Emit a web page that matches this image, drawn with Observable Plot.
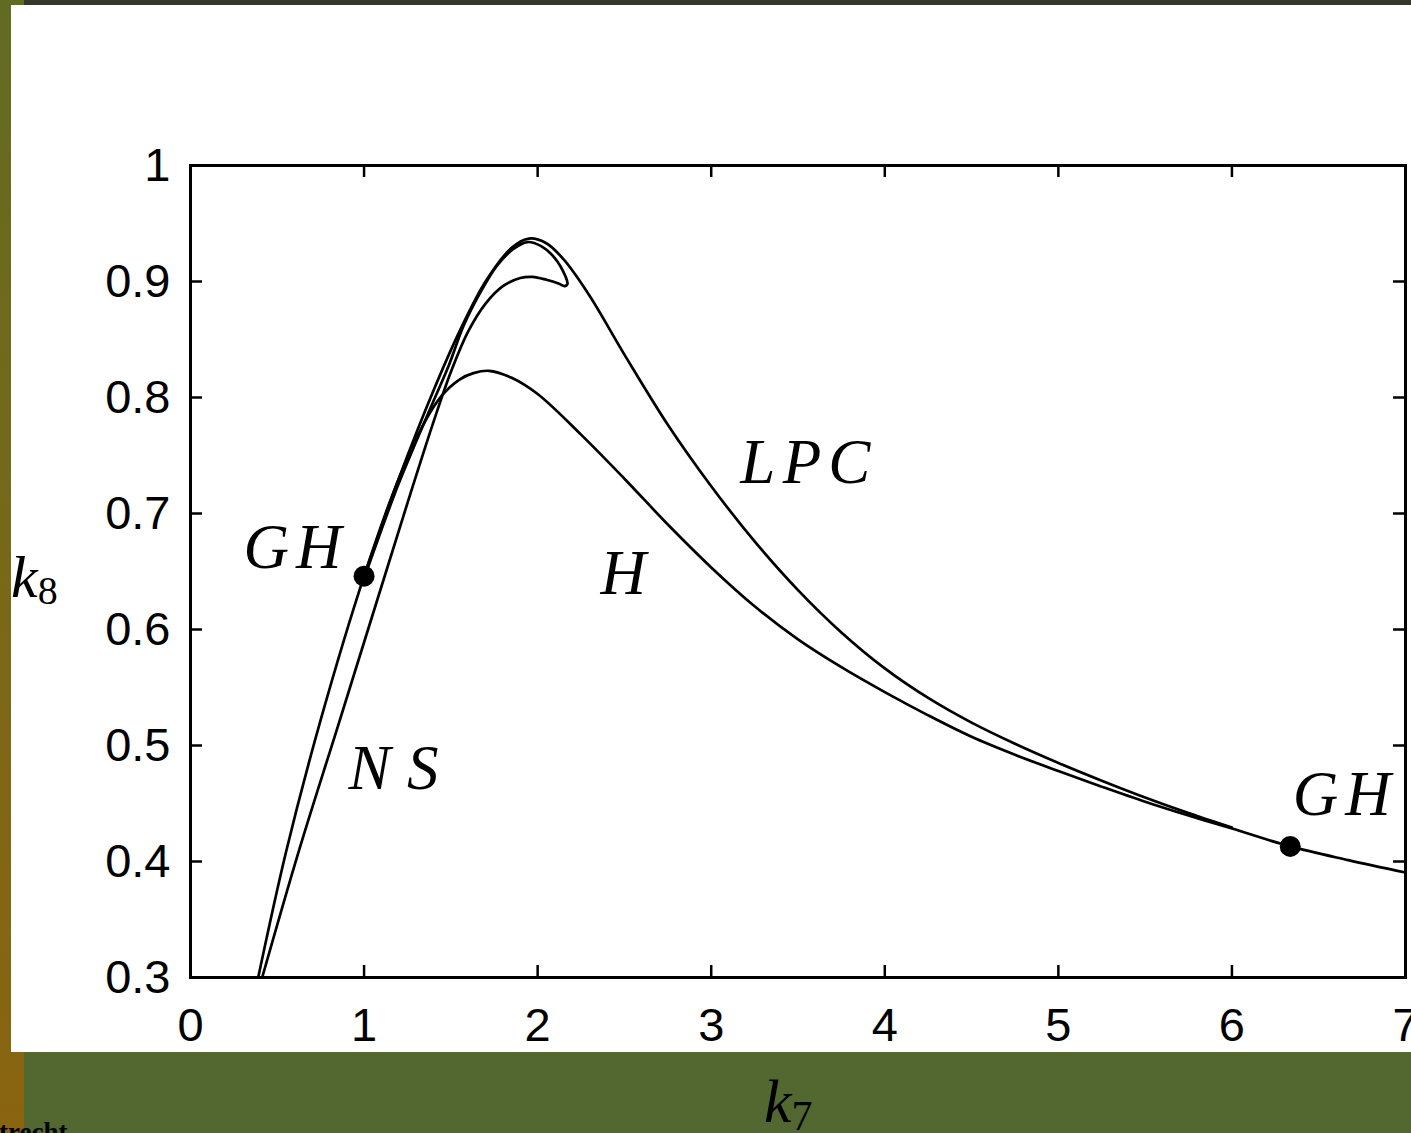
<!DOCTYPE html>
<html>
<head>
<meta charset="utf-8">
<script src="https://cdn.jsdelivr.net/npm/d3@7"></script>
<script src="https://cdn.jsdelivr.net/npm/@observablehq/plot@0.6"></script>
<style>
  html, body { margin: 0; padding: 0; width: 1411px; height: 1133px; overflow: hidden; background: #536830; }
  #strip { position: absolute; left: 0; top: 0; width: 24px; height: 1133px; background: linear-gradient(#626b23, #7a6818 55%, #8a6410); }
  #topbar { position: absolute; left: 24px; top: 0; width: 1387px; height: 5px; background: #34372b; }
  #panel { position: absolute; left: 11px; top: 5px; width: 1400px; height: 1047px; background: #ffffff; }
  #chart { position: absolute; left: 0; top: 0; }
</style>
</head>
<body>
<div id="strip"></div>
<div id="topbar"></div>
<div id="panel"></div>
<div id="chart"></div>
<script>
// ---- data (k7, k8) ----
// H: Hopf curve
const hK7 = [0.39, 0.55, 0.75, 1.0, 1.2, 1.35, 1.45, 1.55, 1.63, 1.72, 1.85, 2.0, 2.25, 2.5, 2.75, 3.0, 3.25, 3.5, 3.75, 4.0, 4.25, 4.5, 4.75, 5.0, 5.25, 5.5, 5.75, 6.0, 6.336, 6.67, 7.0];
const hK8 = [0.300, 0.408, 0.522, 0.646, 0.730, 0.779, 0.802, 0.8155, 0.821, 0.823, 0.817, 0.803, 0.768, 0.730, 0.6905, 0.6535, 0.620, 0.5915, 0.5675, 0.546, 0.526, 0.5075, 0.492, 0.478, 0.4645, 0.4515, 0.4396, 0.4284, 0.413, 0.4012, 0.3905];

// LPC: limit point of cycles curve (between the two GH points)
const lpcK7 = [1.0, 1.2, 1.4, 1.55, 1.7, 1.85, 1.95, 2.05, 2.15, 2.3, 2.5, 2.75, 3.0, 3.25, 3.5, 3.75, 4.0, 4.25, 4.5, 4.75, 5.0, 5.25, 5.5, 5.75, 6.0];
const lpcK8 = [0.646, 0.730, 0.806, 0.857, 0.900, 0.929, 0.937, 0.933, 0.919, 0.8875, 0.837, 0.7765, 0.7235, 0.676, 0.634, 0.5975, 0.5665, 0.541, 0.5197, 0.5015, 0.485, 0.4697, 0.4552, 0.4417, 0.4292];

// NS: Neimark-Sacker curve (with the small loop near the top)
const nsK7 = [0.413, 0.624, 0.85, 1.075, 1.25, 1.40, 1.50, 1.60, 1.70, 1.80, 1.90, 1.97, 2.05, 2.12, 2.155, 2.172, 2.16, 2.10, 2.02, 1.94, 1.86, 1.767, 1.671, 1.574, 1.488, 1.40, 1.30, 1.20, 1.10, 1.0];
const nsK8 = [0.300, 0.409, 0.517, 0.625, 0.709, 0.779, 0.822, 0.857, 0.881, 0.896, 0.903, 0.904, 0.9015, 0.8983, 0.896, 0.8978, 0.9045, 0.920, 0.9305, 0.934, 0.928, 0.9138, 0.8908, 0.862, 0.8276, 0.797, 0.762, 0.726, 0.686, 0.644];

const ghK7 = [1.0, 6.336];
const ghK8 = [0.646, 0.413];

const labelText = ["GH", "GH", "LPC", "H", "NS"];
const labelK7 = [0.305, 6.35, 3.168, 2.362, 0.910];
const labelK8 = [0.6534, 0.4397, 0.7267, 0.631, 0.4629];

const xTicks = [0, 1, 2, 3, 4, 5, 6, 7];
const yTicks = [0.3, 0.4, 0.5, 0.6, 0.7, 0.8, 0.9, 1];

// ---- build tables ----
const rows = (xs, ys) => xs.map((x, i) => ({k7: x, k8: ys[i]}));
const hRows = rows(hK7, hK8);
const lpcRows = rows(lpcK7, lpcK8);
const nsRows = rows(nsK7, nsK8);
const ghRows = rows(ghK7, ghK8);
const labelRows = labelText.map((t, i) => ({text: t, k7: labelK7[i], k8: labelK8[i]}));

const W = 1411, H = 1133, mL = 190, mR = 6, mT = 165, mB = 156;
const fW = W - mL - mR, fH = H - mT - mB, tl = 12;
const sans = "'Liberation Sans', Arial, Helvetica, sans-serif";
const serif = "'Liberation Serif', 'Times New Roman', serif";

const lineOpts = {x: "k7", y: "k8", curve: "catmull-rom", stroke: "black", strokeWidth: 2.7};

const svg = Plot.plot({
  width: W, height: H,
  marginLeft: mL, marginRight: mR, marginTop: mT, marginBottom: mB,
  style: {background: "transparent", fontFamily: sans, fontSize: "47px", color: "black"},
  x: {domain: [0, 7]},
  y: {domain: [0.3, 1]},
  marks: [
    Plot.axisX(xTicks, {tickSize: 0, tickPadding: 30, fontSize: 47, fontFamily: sans, label: null, tickFormat: d => String(d)}),
    Plot.axisY(yTicks, {tickSize: 0, tickPadding: 20, fontSize: 47, fontFamily: sans, label: null, tickFormat: d => d === 1 ? "1" : d.toFixed(1)}),
    Plot.tickX(xTicks, {x: d => d, insetTop: fH - tl, stroke: "black", strokeWidth: 2.5}),
    Plot.tickX(xTicks, {x: d => d, insetBottom: fH - tl, stroke: "black", strokeWidth: 2.5}),
    Plot.tickY(yTicks, {y: d => d, insetRight: fW - tl, stroke: "black", strokeWidth: 2.5}),
    Plot.tickY(yTicks, {y: d => d, insetLeft: fW - tl, stroke: "black", strokeWidth: 2.5}),
    Plot.line(hRows, lineOpts),
    Plot.line(lpcRows, lineOpts),
    Plot.line(nsRows, lineOpts),
    Plot.dot(ghRows, {x: "k7", y: "k8", r: 10.5, fill: "black", stroke: "none"}),
    Plot.text(labelRows, {x: "k7", y: "k8", text: "text", textAnchor: "start", lineAnchor: "bottom",
      fontSize: 63, fontFamily: serif, fontStyle: "italic", fill: "black"}),
    Plot.frame({stroke: "black", strokeWidth: 3})
  ]
});

const s = d3.select(svg);
// widen the italic labels to the math-italic widths of the original
const labelWidths = {"GH": 98, "LPC": 130, "NS": 90};
s.selectAll("text").each(function () {
  const w = labelWidths[this.textContent];
  if (w) {
    this.setAttribute("textLength", w);
    this.setAttribute("lengthAdjust", "spacing");
  }
});

// axis titles with subscripts
const yl = s.append("text").attr("x", 11).attr("y", 597).attr("text-anchor", "start").attr("fill", "black").style("font-family", serif);
yl.append("tspan").text("k").style("font-style", "italic").style("font-size", "60px");
yl.append("tspan").text("8").attr("dy", 7).style("font-size", "40px");

const xl = s.append("text").attr("x", 764).attr("y", 1122).attr("text-anchor", "start").attr("fill", "black").style("font-family", serif);
xl.append("tspan").text("k").style("font-style", "italic").style("font-size", "62px");
xl.append("tspan").text("7").attr("dy", 8).style("font-size", "42px");

s.append("text").attr("x", -1).attr("y", 1141).attr("text-anchor", "start").attr("fill", "black")
  .style("font-family", serif).style("font-weight", "bold").style("font-size", "27px").text("trecht");

document.getElementById("chart").appendChild(svg);
</script>
</body>
</html>
